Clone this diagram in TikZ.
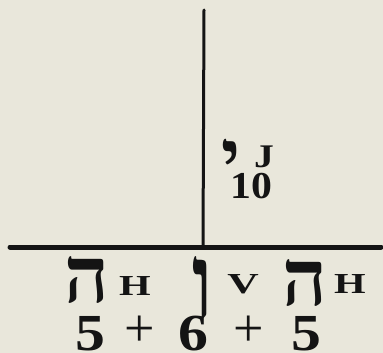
\documentclass[tikz,border=0pt]{standalone}
\usepackage{fontspec}
\setmainfont{Liberation Serif}
\newfontfamily\hebfont[Script=Hebrew]{Liberation Serif}
\TeXXeTstate=1
\definecolor{paper}{HTML}{E9E7DB}
\definecolor{ink}{HTML}{141414}
\newcommand{\wide}[2]{\scalebox{#1}[1]{#2}}
\begin{document}
\begin{tikzpicture}[x=1pt,y=-1pt,
  lat/.style={inner sep=0pt,anchor=base,text=ink,font=\bfseries\fontsize{29}{29}\selectfont},
  dig/.style={inner sep=0pt,anchor=base,text=ink,font=\bfseries\fontsize{52}{52}\selectfont},
  plus/.style={inner sep=0pt,anchor=center,text=ink,font=\fontsize{54}{54}\selectfont},
  heb/.style={inner sep=0pt,anchor=base,text=ink,font=\hebfont\bfseries\fontsize{78}{78}\selectfont},
  rule/.style={draw=ink,line cap=round}]
\fill[paper] (0,0) rectangle (383,353);
\useasboundingbox (0,0) rectangle (383,353);
% lines
\coordinate (top) at (204,10);
\coordinate (foot) at (203,247);
\coordinate (hl) at (10,247);
\coordinate (hr) at (381,247);
\draw[rule,line width=3pt] (top) -- (foot);
\draw[rule,line width=5pt] (hl) -- (hr);
% yod J 10
\node[heb,font=\hebfont\bfseries\fontsize{72}{72}\selectfont] (yod) at (231,181) {\beginR י\endR};
\node[lat,font=\bfseries\fontsize{33}{33}\selectfont] (J) at (264,167) {\wide{1.2}{J}};
\node[dig,font=\bfseries\fontsize{38}{38}\selectfont] (ten) at (251,198) {\wide{1.1}{10}};
% bottom letters
\node[heb] (he1) at (87,302) {\beginR ה\endR};
\node[lat] (H1) at (135,295) {\wide{1.4}{H}};
\node[heb] (vav) at (202,318) {\scalebox{1}[1.35]{\beginR ו\endR}};
\node[lat] (V) at (243,293) {\wide{1.5}{V}};
\node[heb] (he2) at (305,305) {\beginR ה\endR};
\node[lat] (H2) at (350,293) {\wide{1.4}{H}};
% numbers
\node[dig] (n5a) at (90,350) {\wide{1.15}{5}};
\node[plus] (p1) at (140,331) {+};
\node[dig] (n6) at (193,350) {\wide{1.15}{6}};
\node[plus] (p2) at (249,331) {+};
\node[dig] (n5b) at (306,350) {\wide{1.15}{5}};
\end{tikzpicture}
\end{document}
